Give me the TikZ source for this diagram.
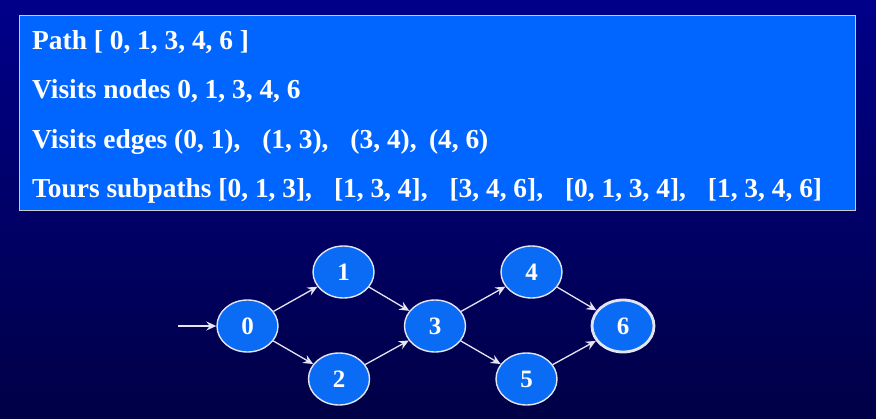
\documentclass[tikz,border=0pt]{standalone}
\usepackage{fontspec}
\setmainfont{Liberation Serif}
\usetikzlibrary{arrows.meta,shapes.geometric}
\definecolor{bgtop}{HTML}{00008A}
\definecolor{bgbot}{HTML}{000046}
\definecolor{boxblue}{HTML}{0066FF}
\definecolor{nodeblue}{HTML}{0A6CF5}
\definecolor{edgecol}{HTML}{E4E4F2}
\tikzset{
  gnode/.style={ellipse, draw=edgecol, line width=1.4pt, fill=nodeblue, minimum width=61pt, minimum height=52pt, inner sep=0pt, text=white, font=\fontsize{25}{27}\selectfont\bfseries},
  finalnode/.style={gnode, line width=2.8pt, minimum width=62pt, minimum height=52pt},
  edge/.style={draw=edgecol, line width=1.3pt, -{Stealth[length=10pt, width=9pt, inset=3.5pt]}},
  line/.style={anchor=base west, text=white, font=\fontsize{27.4}{30}\selectfont\bfseries, inner sep=0pt},
}
\newcommand{\gapA}{\hspace{0.8em}}
\begin{document}
\begin{tikzpicture}[x=1pt, y=-1pt]
\useasboundingbox (0,0) rectangle (876,418);
\shade[top color=bgtop, bottom color=bgbot] (0,0) rectangle (876,418);
\node[draw=gray!40!white, line width=0.8pt, fill=boxblue, minimum width=836pt, minimum height=195pt, anchor=north west, inner sep=0pt] (box) at (19,15) {};
\node[line] (l1) at (32,49) {Path [ 0, 1, 3, 4, 6 ]};
\node[line] (l2) at (32,98) {Visits nodes 0, 1, 3, 4, 6};
\node[line] (l3) at (32,148) {Visits edges (0, 1),\gapA{}(1, 3),\gapA{}(3, 4),\hspace{0.45em}(4, 6)};
\node[line] (l4) at (32,197) {Tours subpaths [0, 1, 3],\gapA{}[1, 3, 4],\gapA{}[3, 4, 6],\gapA{}[0, 1, 3, 4],\gapA{}[1, 3, 4, 6]};
\node[gnode] (n0) at (247.5,326) {0};
\node[gnode] (n1) at (343.5,272) {1};
\node[gnode] (n2) at (339,379) {2};
\node[gnode] (n3) at (435,326) {3};
\node[gnode] (n4) at (531.5,272) {4};
\node[gnode] (n5) at (526.5,379) {5};
\node[finalnode] (n6) at (623,326) {6};
\coordinate (start) at (178,326);
\draw[edge] (start) -- (n0);
\draw[edge] (n0) -- (n1);
\draw[edge] (n0) -- (n2);
\draw[edge] (n1) -- (n3);
\draw[edge] (n2) -- (n3);
\draw[edge] (n3) -- (n4);
\draw[edge] (n3) -- (n5);
\draw[edge] (n4) -- (n6);
\draw[edge] (n5) -- (n6);
\end{tikzpicture}
\end{document}
